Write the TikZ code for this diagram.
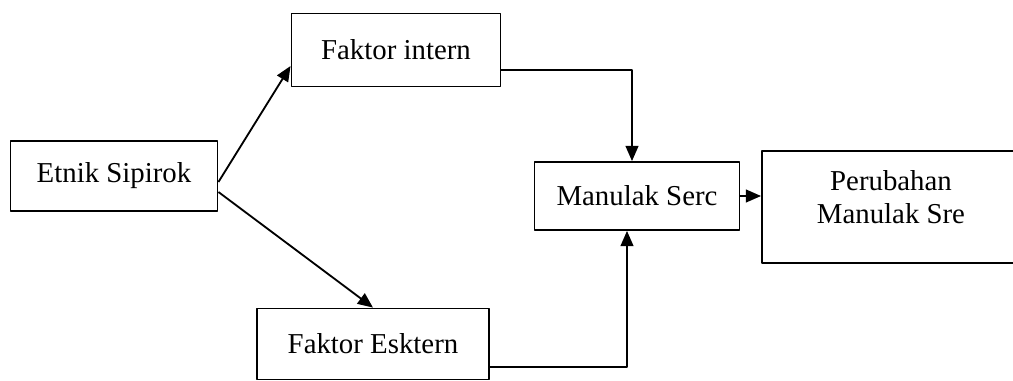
\documentclass[tikz,border=0pt]{standalone}
\usepackage{fontspec}
\setmainfont{Liberation Serif}
\usetikzlibrary{arrows.meta}
\begin{document}
\begin{tikzpicture}[x=0.025cm,y=-0.025cm,>={Triangle[length=0.38cm,width=0.32cm]},line join=round,
	box/.style={draw,line width=1.3pt,inner sep=2pt,align=center,font=\fontsize{20.5}{24}\selectfont},
	link/.style={->,line width=1.3pt}]
		\useasboundingbox (0,0) rectangle (1013,381);
		\node[box,minimum width=5.175cm,minimum height=1.75cm] (etnik) at (114,176) {Etnik Sipirok};
		\node[box,minimum width=5.225cm,minimum height=1.825cm] (intern) at (396,50) {Faktor intern};
		\node[box,minimum width=5.8cm,minimum height=1.775cm] (esktern) at (373,344) {Faktor Esktern};
		\node[box,minimum width=5.125cm,minimum height=1.7cm] (serc) at (637,196) {Manulak Serc};
		\node[box,minimum width=6.45cm,minimum height=2.8cm,text depth=0.5cm] (perubahan) at (891,207) {Perubahan\\Manulak Sre};
		\draw[link] ([yshift=-0.15cm]etnik.east) -- ([yshift=-0.4cm]intern.west);
		\draw[link] ([yshift=-0.4cm]etnik.east) -- (esktern.north);
		\draw[link] ([yshift=-0.5cm]intern.east) -| ([xshift=-0.125cm]serc.north);
		\draw[link] ([yshift=-0.575cm]esktern.east) -| ([xshift=-0.25cm]serc.south);
		\draw[link] (serc.east) -- (serc.east -| perubahan.west);
		\end{tikzpicture}
\end{document}
